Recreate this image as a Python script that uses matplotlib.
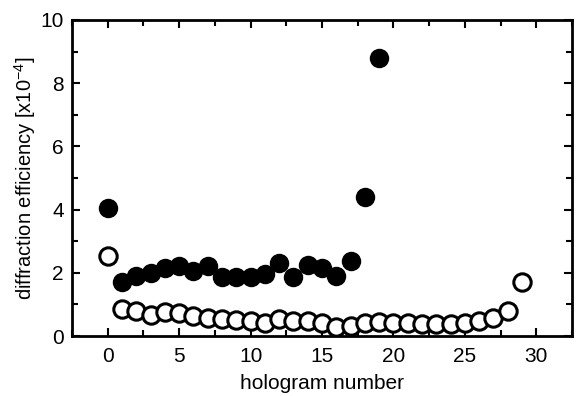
import matplotlib
matplotlib.use("Agg")
import matplotlib.pyplot as plt
from matplotlib.ticker import MultipleLocator

plt.rcParams['font.family'] = ['Liberation Sans', 'DejaVu Sans']
plt.rcParams['mathtext.fontset'] = 'custom'
plt.rcParams['mathtext.rm'] = 'Liberation Sans'

filled_x = list(range(0, 20))
filled_y = [4.05, 1.7, 1.9, 2.0, 2.15, 2.2, 2.05, 2.2, 1.87, 1.87,
            1.87, 1.95, 2.3, 1.87, 2.25, 2.15, 1.9, 2.37, 4.4, 8.8]
open_x = list(range(0, 30))
open_y = [2.53, 0.87, 0.8, 0.68, 0.75, 0.72, 0.62, 0.58, 0.55, 0.5,
          0.47, 0.4, 0.55, 0.47, 0.47, 0.4, 0.3, 0.32, 0.4, 0.45,
          0.42, 0.4, 0.38, 0.38, 0.38, 0.42, 0.48, 0.58, 0.8, 1.7]

fig = plt.figure(figsize=(5.78, 3.96), dpi=100)
ax = fig.add_axes([0.1246, 0.1515, 0.865, 0.798])

ax.plot(open_x, open_y, 'o', ms=12.5, mfc='white', mec='black', mew=2.2, ls='none', zorder=3)
ax.plot(filled_x, filled_y, 'o', ms=13, mfc='black', mec='black', mew=1, ls='none', zorder=4)

ax.set_xlim(-2.5, 32.5)
ax.set_ylim(0, 10)
ax.xaxis.set_major_locator(MultipleLocator(5))
ax.xaxis.set_minor_locator(MultipleLocator(2.5))
ax.yaxis.set_major_locator(MultipleLocator(2))
ax.yaxis.set_minor_locator(MultipleLocator(1))
ax.tick_params(which='both', direction='in', top=True, right=True, width=1.5, labelsize=15)
ax.tick_params(axis='x', which='major', pad=8)
ax.tick_params(axis='y', which='major', pad=6)
ax.tick_params(which='major', length=6)
ax.tick_params(which='minor', length=4)
for s in ax.spines.values():
    s.set_linewidth(2)

ax.set_xlabel('hologram number', fontsize=15, labelpad=6)
ax.set_ylabel(r'diffraction efficiency [x10$^{-4}$]', fontsize=14.5, labelpad=2)

fig.savefig('out.png', dpi=100)
